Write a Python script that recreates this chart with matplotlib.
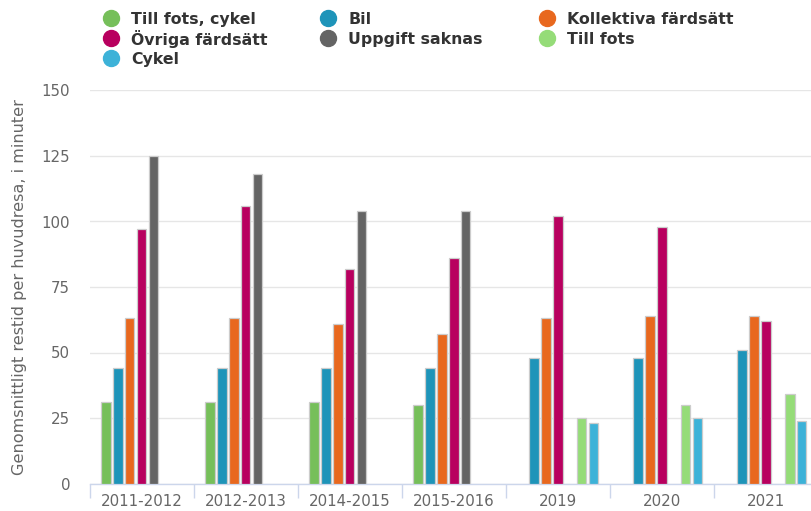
import numpy as np
import matplotlib.pyplot as plt
from matplotlib.lines import Line2D

categories = ['2011-2012', '2012-2013', '2014-2015', '2015-2016', '2019', '2020', '2021']
series_names = ['Till fots, cykel', 'Bil', 'Kollektiva färdsätt', 'Övriga färdsätt',
                'Uppgift saknas', 'Till fots', 'Cykel']
nan = np.nan
till_fots_cykel = [31, 31, 31, 30, nan, nan, nan]
bil = [44, 44, 44, 44, 48, 48, 51]
kollektiva = [63, 63, 61, 57, 63, 64, 64]
ovriga = [97, 106, 82, 86, 102, 98, 62]
uppgift_saknas = [125, 118, 104, 104, nan, nan, nan]
till_fots = [nan, nan, nan, nan, 25, 30, 34]
cykel = [nan, nan, nan, nan, 23, 25, 24]
values = [till_fots_cykel, bil, kollektiva, ovriga, uppgift_saknas, till_fots, cykel]
colors = ['#76bf5a', '#1e94b9', '#e8681e', '#b8005f', '#646464', '#95dc78', '#3db2d8']

W, H = 811, 511
fig = plt.figure(figsize=(W / 100, H / 100), dpi=100)
# plot area is cut off at the right edge in the original
left, right, top, bottom = 89.6, 818, 90.5, 483.5
ax = fig.add_axes([left / W, 1 - bottom / H, (right - left) / W, (bottom - top) / H])

n = len(series_names)
x = np.arange(len(categories))
pitch = 0.8 / n
for i, (vals, col) in enumerate(zip(values, colors)):
    ax.bar(x - 0.4 + pitch * (i + 0.5), vals, width=pitch * 0.8, color=col,
           edgecolor='#cccccc', linewidth=0.9, zorder=3)

ax.set_xlim(-0.5, len(categories) - 0.5)
ax.set_ylim(0, 150)
ax.set_yticks(np.arange(0, 151, 25))
ax.grid(axis='y', color='#e6e6e6', linewidth=1, zorder=0)
for s in ['top', 'right', 'left']:
    ax.spines[s].set_visible(False)
ax.spines['bottom'].set_color('#ccd6eb')
ax.spines['bottom'].set_linewidth(1)

ax.set_xticks(x)
ax.set_xticklabels(categories)
ax.set_xticks(np.arange(len(categories) + 1) - 0.5, minor=True)
ax.tick_params(axis='x', which='major', length=0, pad=7.5, labelsize=10.8, labelcolor='#666666')
ax.tick_params(axis='x', which='minor', length=10, width=1, color='#ccd6eb')
ax.tick_params(axis='y', length=0, pad=14, labelsize=10.8, labelcolor='#666666')
for lab in ax.get_yticklabels():
    lab.set_horizontalalignment('right')

fig.text(20 / W, 1 - 287 / H, 'Genomsnittligt restid per huvudresa, i minuter',
         rotation=90, ha='center', va='center', fontsize=11.6, color='#666666')

# legend, laid out row by row in three columns
col_x = [111, 328, 547]
row_y = [18, 38, 58]
for i, (name, col) in enumerate(zip(series_names, colors)):
    cx = col_x[i % 3]
    cy = row_y[i // 3]
    fig.add_artist(Line2D([cx / W], [1 - cy / H], marker='o', markersize=11.5,
                          color=col, linestyle='none', transform=fig.transFigure))
    fig.text((cx + 20) / W, 1 - cy / H, name, ha='left', va='center_baseline',
             fontsize=11.3, fontweight='bold', color='#333333')

fig.savefig('out.png', dpi=100)
